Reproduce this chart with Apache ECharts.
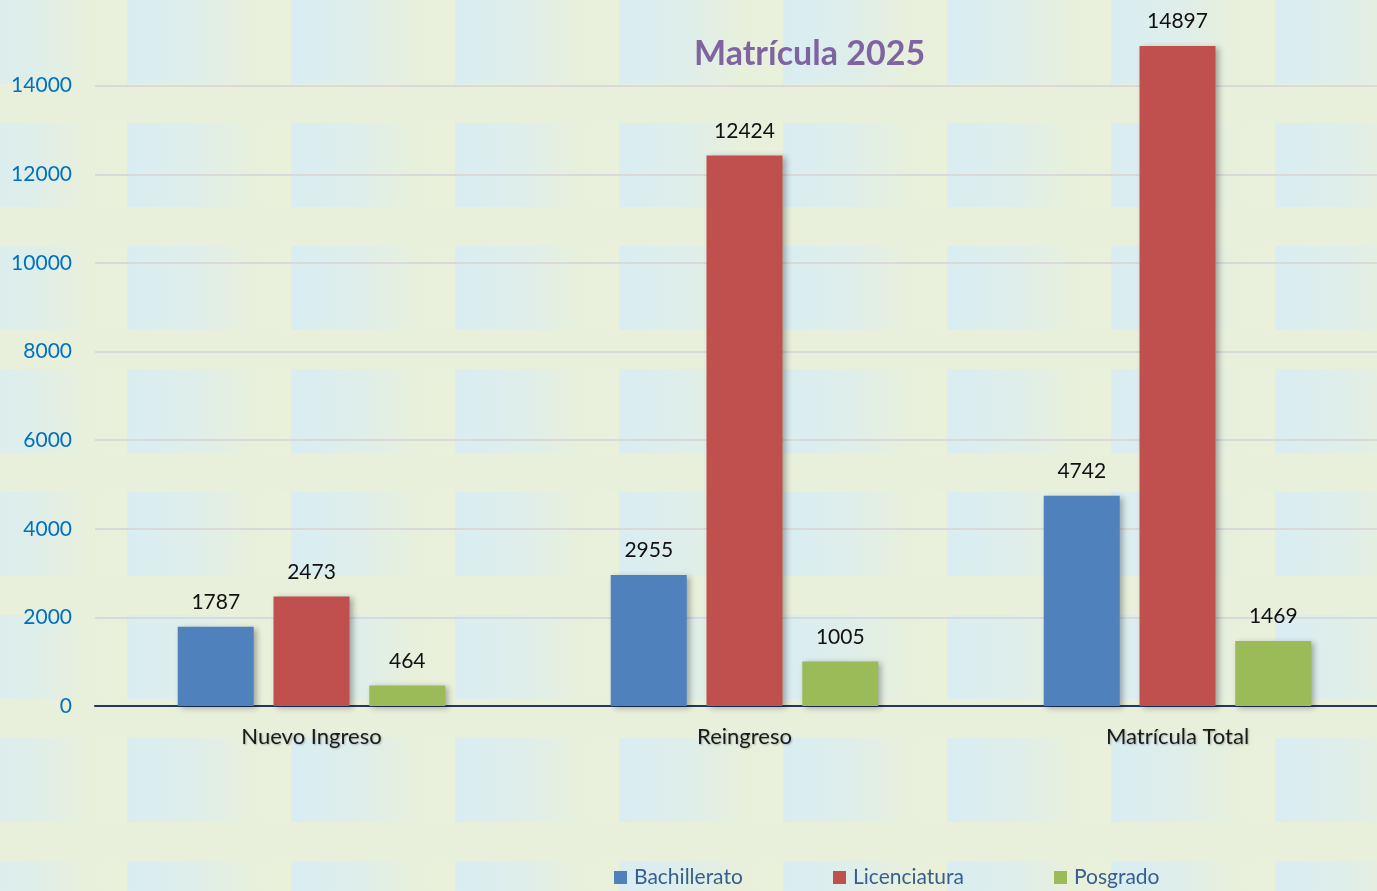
<!DOCTYPE html>
<html>
<head>
<meta charset="utf-8">
<script src="https://cdn.jsdelivr.net/npm/echarts@6/dist/echarts.min.js"></script>
<style>
  html, body { margin: 0; padding: 0; overflow: hidden; }
  #wrap {
    width: 1377px; height: 891px; overflow: hidden; position: relative;
    /* tiled pale blue / green backdrop of the original */
    background-color: #e8f0dc;
    background-image:
      linear-gradient(to bottom, rgba(232,240,220,0) 0, rgba(232,240,220,0) 84px, #e8f0dc 84px, #e8f0dc 123px),
      linear-gradient(to right, #d9edf2 0%, #dfeee9 45%, #e8f0dc 75%, #e9f1db 100%);
    background-size: 164px 123px;
    background-position: -37px 0;
  }
  /* chart slightly larger than the window: the plot runs off the top and right edge */
  #chart { position: absolute; left: 0; top: -3px; width: 1394px; height: 894px; }
</style>
</head>
<body>
<div id="wrap"><div id="chart"></div></div>
<script>
const categories = ['Nuevo Ingreso', 'Reingreso', 'Matrícula Total']
const bachillerato = [1787, 2955, 4742]
const licenciatura = [2473, 12424, 14897]
const posgrado = [464, 1005, 1469]

const FONT = 'Lato'

const chart = echarts.init(document.getElementById('chart'))

function barSeries(name, data, color) {
  return {
    name, type: 'bar', data,
    barWidth: 76, barGap: '26%',
    itemStyle: {
      color,
      shadowBlur: 6, shadowOffsetX: 3, shadowOffsetY: 2,
      shadowColor: 'rgba(0,0,0,0.3)'
    },
    label: {
      show: true, position: 'top', distance: 14,
      color: '#111', fontSize: 21, fontFamily: FONT
    }
  }
}

function legendItem(name, left) {
  return {
    left, top: 870, padding: 0, icon: 'rect', itemWidth: 13, itemHeight: 13, itemGap: 0,
    textStyle: { color: '#365f91', fontSize: 21, fontFamily: FONT, padding: [0, 0, 0, 2] },
    data: [name]
  }
}

chart.setOption({
  backgroundColor: 'transparent',
  animation: false,
  title: {
    text: 'Matrícula 2025', left: 689, top: 35,
    textStyle: { color: '#8064a2', fontSize: 34, fontWeight: 'bold', fontFamily: FONT }
  },
  legend: [
    legendItem('Bachillerato', 614),
    legendItem('Licenciatura', 833),
    legendItem('Posgrado', 1054)
  ],
  grid: { left: 95, right: 0, top: 0, bottom: 185 },
  xAxis: {
    type: 'category', data: categories,
    axisLine: { lineStyle: { color: '#1f3864', width: 2 } },
    axisTick: { show: false },
    axisLabel: {
      color: '#1a1a1a', fontSize: 22, fontFamily: FONT, margin: 20,
      textShadowColor: 'rgba(0,0,0,0.25)', textShadowBlur: 2, textShadowOffsetX: 1, textShadowOffsetY: 1
    }
  },
  yAxis: {
    type: 'value', min: 0, max: 16000, interval: 2000,
    axisLine: { show: false }, axisTick: { show: false },
    axisLabel: {
      color: '#0070c0', fontSize: 21, fontFamily: FONT, margin: 23, showMaxLabel: false,
      formatter: (v) => String(v)
    },
    splitLine: { lineStyle: { color: '#d9d9d9', width: 2 } }
  },
  series: [
    barSeries('Bachillerato', bachillerato, '#4f81bd'),
    barSeries('Licenciatura', licenciatura, '#c0504d'),
    barSeries('Posgrado', posgrado, '#9bbb59')
  ]
})
</script>
</body>
</html>
